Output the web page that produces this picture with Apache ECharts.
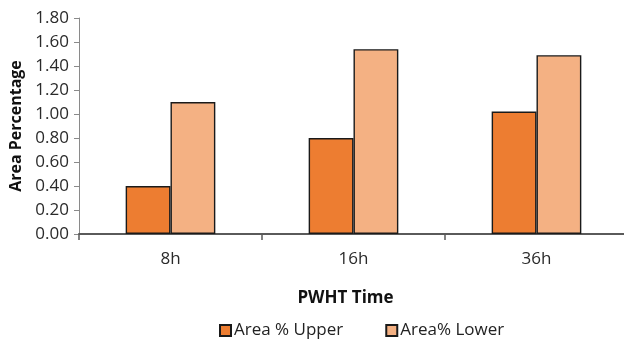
<!DOCTYPE html>
<html>
<head>
<meta charset="utf-8">
<script src="https://cdn.jsdelivr.net/npm/echarts@6/dist/echarts.min.js"></script>
<style>
  html, body { margin: 0; padding: 0; background: #fff; }
  #chart { width: 624px; height: 340px; }
</style>
</head>
<body>
<div id="chart"></div>
<script>
// PWHT duration categories
const categories = ['8h', '16h', '36h'];
// Area percentage measured in the upper and lower regions
const upperValues = [0.40, 0.80, 1.02];
const lowerValues = [1.10, 1.54, 1.49];
const seriesNames = ['Area % Upper', 'Area% Lower'];
const yMin = 0, yMax = 1.8, yStep = 0.2;

const FONT = 'Open Sans';
const chart = echarts.init(document.getElementById('chart'), null, { renderer: 'canvas' });

chart.setOption({
  animation: false,
  textStyle: { fontFamily: FONT },
  grid: { left: 79, right: -4, top: 18, bottom: 106, containLabel: false, outerBoundsMode: 'none' },
  legend: {
    top: 322,
    left: 219,
    padding: 0,
    itemWidth: 11,
    itemHeight: 11,
    itemGap: 42,
    icon: 'rect',
    textStyle: { fontFamily: FONT, fontSize: 17, color: '#222', padding: [0, 0, 0, -2] },
    data: seriesNames
  },
  xAxis: {
    type: 'category',
    data: categories,
    name: 'PWHT Time',
    nameLocation: 'middle',
    nameGap: 56,
    nameTextStyle: { fontFamily: FONT, fontSize: 17, fontWeight: 'bold', color: '#111', padding: [0, 16, 0, 0] },
    axisLine: { lineStyle: { color: '#5a5a5a', width: 2 } },
    axisTick: { show: true, alignWithLabel: false, length: 6, lineStyle: { color: '#5a5a5a', width: 1.5 } },
    axisLabel: { fontFamily: FONT, fontSize: 17, color: '#2a2a2a', margin: 17 }
  },
  yAxis: {
    type: 'value',
    min: yMin,
    max: yMax,
    interval: yStep,
    name: 'Area Percentage',
    nameLocation: 'middle',
    nameGap: 51,
    nameRotate: 90,
    nameTextStyle: { fontFamily: FONT, fontSize: 16, fontWeight: 'bold', color: '#111' },
    axisLine: { show: true, lineStyle: { color: '#8a8a8a', width: 1 } },
    axisTick: { show: true, length: 5, lineStyle: { color: '#8a8a8a' } },
    splitLine: { show: false },
    axisLabel: {
      fontFamily: FONT, fontSize: 17, color: '#2a2a2a', margin: 10,
      formatter: v => v.toFixed(2)
    }
  },
  series: [
    {
      name: seriesNames[0],
      type: 'bar',
      data: upperValues,
      barGap: '0%',
      barCategoryGap: '51%',
      itemStyle: { color: '#ED7D31', borderColor: '#1a1a1a', borderWidth: 1.4 }
    },
    {
      name: seriesNames[1],
      type: 'bar',
      data: lowerValues,
      itemStyle: { color: '#F4B183', borderColor: '#1a1a1a', borderWidth: 1.4 }
    }
  ]
});
</script>
</body>
</html>
